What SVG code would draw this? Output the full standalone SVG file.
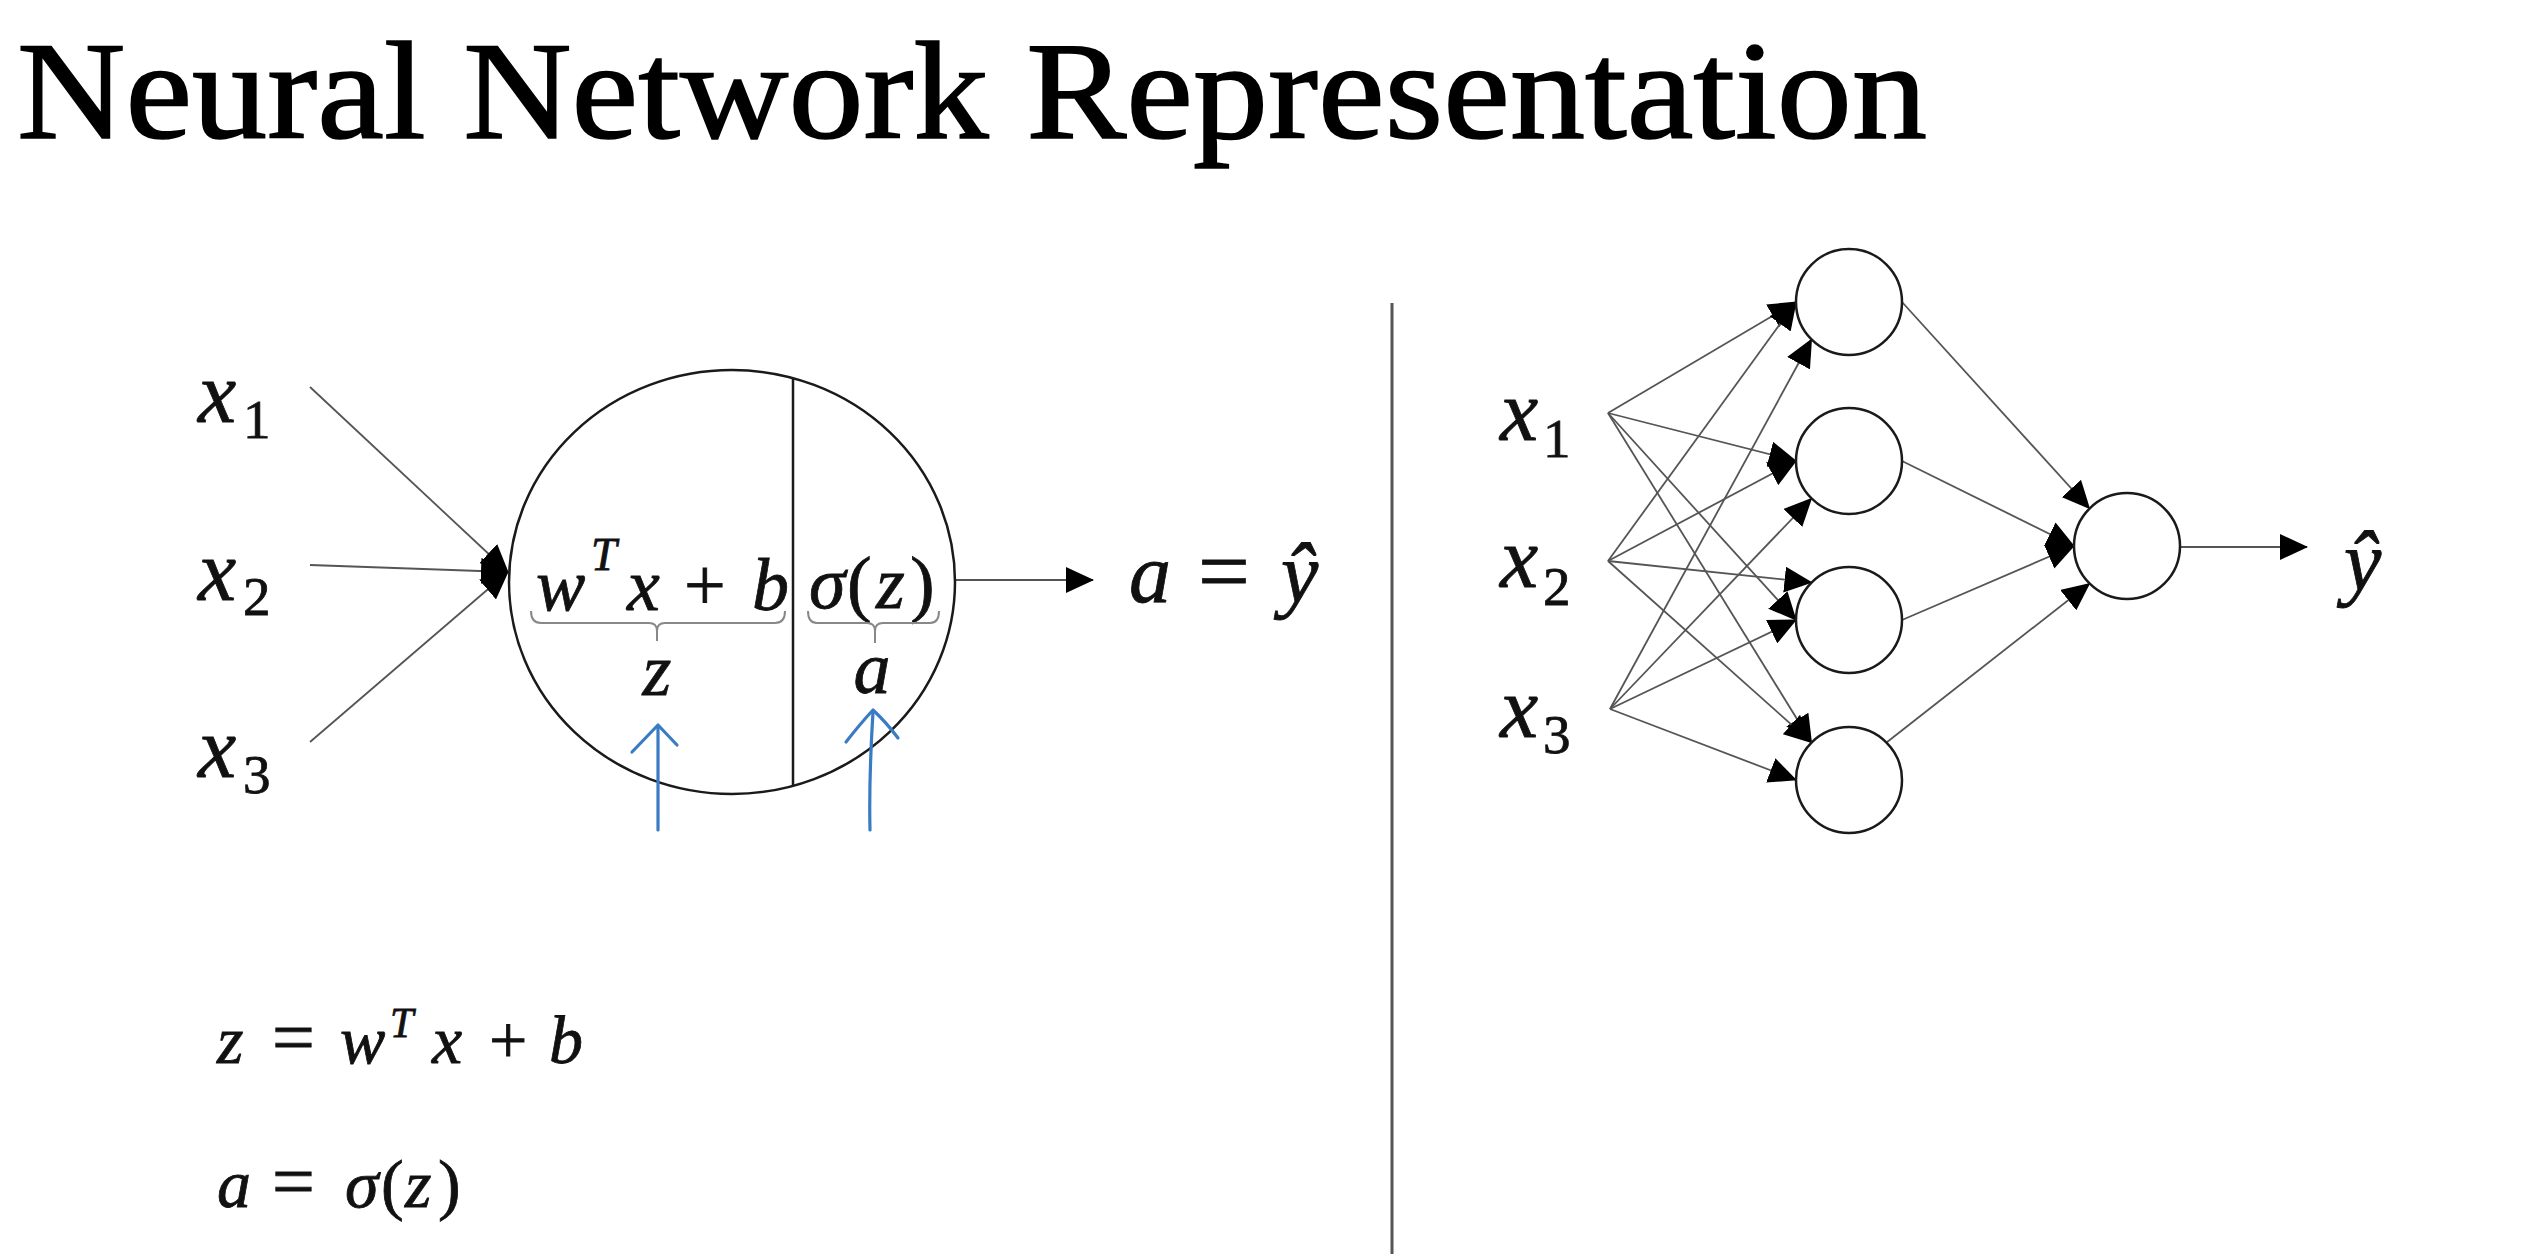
<svg xmlns="http://www.w3.org/2000/svg" width="2544" height="1254" viewBox="0 0 2544 1254">
<style>
.m{font-family:"Liberation Serif","DejaVu Serif",serif;font-style:italic;fill:#111;stroke:#111;stroke-width:0.8}
.r{font-family:"Liberation Serif","DejaVu Serif",serif;font-style:normal;fill:#111;stroke:#111;stroke-width:0.8}
.t{font-family:"Liberation Serif","DejaVu Serif",serif;fill:#000;stroke:#000;stroke-width:1.6}
.node{fill:#fff;stroke:#1a1a1a;stroke-width:2.5}
.edge{stroke:#555;stroke-width:1.8;fill:none}
.brace{stroke:#888;stroke-width:2;fill:none}
.blue{stroke:#3a7cc3;stroke-width:3.2;fill:none;stroke-linecap:round;stroke-linejoin:round}
</style>
<defs>
<marker id="ah" viewBox="0 0 28 26" refX="27" refY="13" markerWidth="28" markerHeight="26" markerUnits="userSpaceOnUse" orient="auto">
<path d="M0,0 L28,13 L0,26 z" fill="#000"/>
</marker>
</defs>
<rect width="2544" height="1254" fill="#fff"/>

<text id="title" class="t" x="17" y="138" font-size="140" textLength="1910" lengthAdjust="spacingAndGlyphs">Neural Network Representation</text>

<g id="connectors">
<line class="edge" x1="310" y1="387" x2="508" y2="572" marker-end="url(#ah)"/>
<line class="edge" x1="310" y1="565" x2="508" y2="572" marker-end="url(#ah)"/>
<line class="edge" x1="310" y1="742" x2="508" y2="572" marker-end="url(#ah)"/>
<line class="edge" x1="955" y1="580" x2="1093" y2="580" marker-end="url(#ah)"/>
<line x1="1392" y1="303" x2="1392" y2="1254" stroke="#555" stroke-width="3"/>
<line class="edge" x1="1608" y1="413" x2="1796" y2="302" marker-end="url(#ah)"/>
<line class="edge" x1="1608" y1="561" x2="1796" y2="302" marker-end="url(#ah)"/>
<line class="edge" x1="1610" y1="709" x2="1811.5" y2="339.5" marker-end="url(#ah)"/>
<line class="edge" x1="1608" y1="413" x2="1796" y2="461" marker-end="url(#ah)"/>
<line class="edge" x1="1608" y1="561" x2="1796" y2="461" marker-end="url(#ah)"/>
<line class="edge" x1="1610" y1="709" x2="1811.5" y2="498.5" marker-end="url(#ah)"/>
<line class="edge" x1="1608" y1="413" x2="1796" y2="620" marker-end="url(#ah)"/>
<line class="edge" x1="1608" y1="561" x2="1811.5" y2="582.5" marker-end="url(#ah)"/>
<line class="edge" x1="1610" y1="709" x2="1796" y2="620" marker-end="url(#ah)"/>
<line class="edge" x1="1608" y1="413" x2="1811.5" y2="742.5" marker-end="url(#ah)"/>
<line class="edge" x1="1608" y1="561" x2="1811.5" y2="742.5" marker-end="url(#ah)"/>
<line class="edge" x1="1610" y1="709" x2="1796" y2="780" marker-end="url(#ah)"/>
<line class="edge" x1="1902" y1="302" x2="2089.5" y2="508.5" marker-end="url(#ah)"/>
<line class="edge" x1="1902" y1="461" x2="2074" y2="546" marker-end="url(#ah)"/>
<line class="edge" x1="1902" y1="620" x2="2074" y2="546" marker-end="url(#ah)"/>
<line class="edge" x1="1886.5" y1="742.5" x2="2089.5" y2="583.5" marker-end="url(#ah)"/>
<line class="edge" x1="2180" y1="547" x2="2307" y2="547" marker-end="url(#ah)"/>
</g>

<g id="neuron">
<ellipse class="node" cx="732" cy="582" rx="223" ry="212"/>
<line x1="793" y1="379" x2="793" y2="785" stroke="#1a1a1a" stroke-width="2.5"/>
<text font-size="74"><tspan class="m" x="536" y="610">w</tspan><tspan class="m" x="591" y="570" font-size="46">T</tspan><tspan class="m" x="627" y="610">x</tspan><tspan class="r" x="684" y="610">+</tspan><tspan class="m" x="752" y="610">b</tspan></text>
<text font-size="74"><tspan class="m" x="809" y="608">σ</tspan><tspan class="r" x="847" y="608">(</tspan><tspan class="m" x="876" y="608">z</tspan><tspan class="r" x="910" y="608">)</tspan></text>
<path class="brace" d="M531,611 Q531,623 541,623 H649 Q657,623 657,631 V641 M657,631 Q657,623 665,623 H775 Q785,623 785,611"/>
<path class="brace" d="M808,611 Q808,623 817,623 H867 Q875,623 875,631 V643 M875,631 Q875,623 883,623 H930 Q939,623 939,611"/>
<text class="m" x="657" y="695" font-size="74" text-anchor="middle">z</text>
<text class="m" x="872" y="693" font-size="74" text-anchor="middle">a</text>
</g>

<g id="annotations">
<path class="blue" d="M658,830 L658,726"/>
<path class="blue" d="M632,752 L658,725 L677,745"/>
<path class="blue" d="M870,830 C869,790 871,745 873,712"/>
<path class="blue" d="M846,742 Q860,724 873,710 Q886,722 898,738"/>
</g>

<g id="left-inputs">
<text><tspan class="m" x="198" y="422" font-size="86">x</tspan><tspan class="r" x="243" y="438" font-size="55">1</tspan></text>
<text><tspan class="m" x="198" y="600" font-size="86">x</tspan><tspan class="r" x="243" y="615" font-size="55">2</tspan></text>
<text><tspan class="m" x="198" y="777" font-size="86">x</tspan><tspan class="r" x="243" y="793" font-size="55">3</tspan></text>
</g>

<g id="left-output">
<text font-size="84"><tspan class="m" x="1129" y="602">a</tspan><tspan class="r" x="1198" y="602" font-size="92">=</tspan><tspan class="m" x="1281" y="602">ŷ</tspan></text>
</g>

<g id="equations">
<text font-size="68"><tspan class="m" x="217" y="1063">z</tspan><tspan class="r" x="272" y="1063" font-size="76">=</tspan><tspan class="m" x="340" y="1063">w</tspan><tspan class="m" x="390" y="1037" font-size="42">T</tspan><tspan class="m" x="432" y="1063">x</tspan><tspan class="r" x="489" y="1063">+</tspan><tspan class="m" x="549" y="1063">b</tspan></text>
<text font-size="68"><tspan class="m" x="217" y="1207">a</tspan><tspan class="r" x="272" y="1207" font-size="76">=</tspan><tspan class="m" x="345" y="1207">σ</tspan><tspan class="r" x="381" y="1207">(</tspan><tspan class="m" x="405" y="1207">z</tspan><tspan class="r" x="438" y="1207">)</tspan></text>
</g>

<g id="right-inputs">
<text><tspan class="m" x="1500" y="440" font-size="86">x</tspan><tspan class="r" x="1543" y="457" font-size="55">1</tspan></text>
<text><tspan class="m" x="1500" y="587" font-size="86">x</tspan><tspan class="r" x="1543" y="605" font-size="55">2</tspan></text>
<text><tspan class="m" x="1500" y="737" font-size="86">x</tspan><tspan class="r" x="1543" y="753" font-size="55">3</tspan></text>
</g>

<g id="h1"><circle class="node" cx="1849" cy="302" r="53"/></g>
<g id="h2"><circle class="node" cx="1849" cy="461" r="53"/></g>
<g id="h3"><circle class="node" cx="1849" cy="620" r="53"/></g>
<g id="h4"><circle class="node" cx="1849" cy="780" r="53"/></g>
<g id="out"><circle class="node" cx="2127" cy="546" r="53"/></g>
<g id="yhat"><text class="m" x="2344" y="590" font-size="84">ŷ</text></g>
</svg>
